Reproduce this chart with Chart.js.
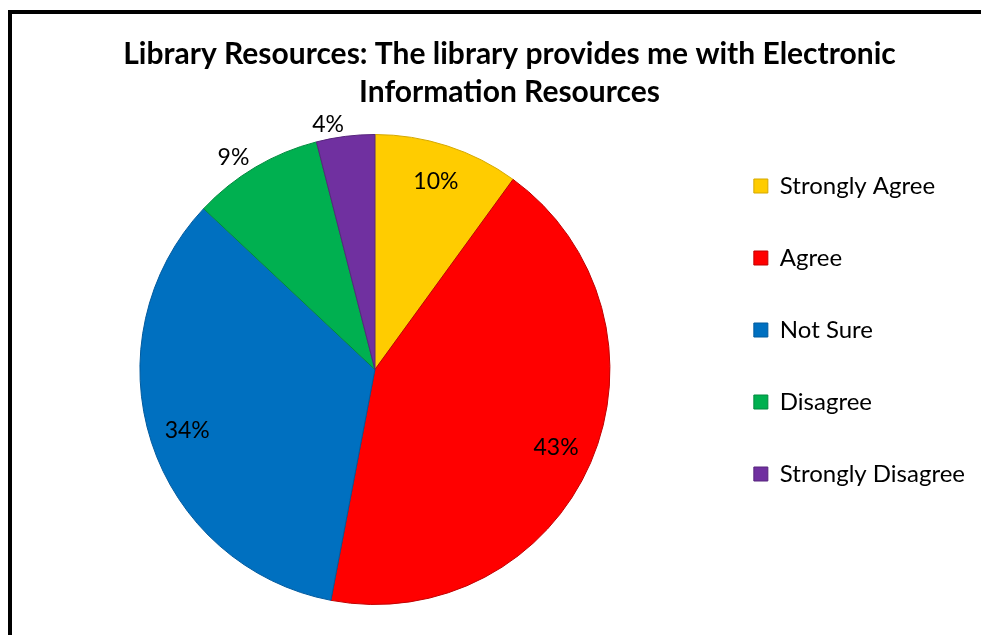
<!DOCTYPE html>
<html>
<head>
<meta charset="utf-8">
<script src="https://cdn.jsdelivr.net/npm/chart.js@4.4.1/dist/chart.umd.min.js"></script>
<style>
  html, body { margin: 0; padding: 0; background: #fff; overflow: hidden; }
  #marco { position: absolute; left: 8px; top: 10px; width: 1100px; height: 800px;
           border-left: 4px solid #000; border-top: 4px solid #000; }
  #grafico { position: absolute; left: 0; top: 0; }
</style>
</head>
<body>
<div id="marco"></div>
<canvas id="grafico" width="981" height="635"></canvas>
<script>
// datos del gráfico
const titulo = ['Library Resources: The library provides me with Electronic', 'Information Resources'];
const categorias = ['Strongly Agree', 'Agree', 'Not Sure', 'Disagree', 'Strongly Disagree'];
const porcentajes = [10, 43, 34, 9, 4];
const colores = ['#FFCC00', '#FF0000', '#0070C0', '#00B050', '#7030A0'];
const bordes = ['#D4A800', '#C00000', '#005A9E', '#008A3E', '#57257D'];

const fuente = 'Lato';

// etiquetas de porcentaje: dentro de los sectores grandes, fuera de los pequeños
const etiquetas = {
  id: 'etiquetas',
  afterDatasetsDraw(chart) {
    const ctx = chart.ctx;
    const meta = chart.getDatasetMeta(0);
    ctx.save();
    ctx.font = '23px ' + fuente;
    ctx.fillStyle = '#000';
    ctx.textBaseline = 'middle';
    meta.data.forEach((arco, i) => {
      const p = arco.getProps(['x', 'y', 'startAngle', 'endAngle', 'outerRadius'], true);
      const medio = (p.startAngle + p.endAngle) / 2;
      const texto = porcentajes[i] + '%';
      if (porcentajes[i] >= 10) {
        const r = p.outerRadius * 0.84;
        ctx.textAlign = 'center';
        ctx.fillText(texto, p.x + Math.cos(medio) * r, p.y + Math.sin(medio) * r);
      } else {
        const r = p.outerRadius * 1.05;
        ctx.textAlign = Math.cos(medio) < 0 ? 'right' : 'left';
        ctx.fillText(texto, p.x + Math.cos(medio) * r, p.y + Math.sin(medio) * r);
      }
    });
    ctx.restore();
  }
};

new Chart(document.getElementById('grafico'), {
  type: 'pie',
  data: {
    labels: categorias,
    datasets: [{
      data: porcentajes,
      backgroundColor: colores,
      borderColor: bordes,
      borderWidth: 1
    }]
  },
  options: {
    responsive: false,
    devicePixelRatio: 1,
    animation: false,
    layout: { padding: { top: 55, bottom: 30, left: 44, right: 6 } },
    plugins: {
      title: {
        display: true,
        text: titulo,
        color: '#000',
        font: { family: fuente, size: 30, weight: 'bold', lineHeight: 38 / 30 },
        padding: { top: -20, bottom: 23 }
      },
      legend: {
        position: 'right',
        align: 'center',
        labels: {
          color: '#000',
          font: { family: fuente, size: 24 },
          boxWidth: 14,
          boxHeight: 14,
          padding: 48
        }
      },
      tooltip: { enabled: false }
    }
  },
  plugins: [etiquetas]
});
</script>
</body>
</html>
